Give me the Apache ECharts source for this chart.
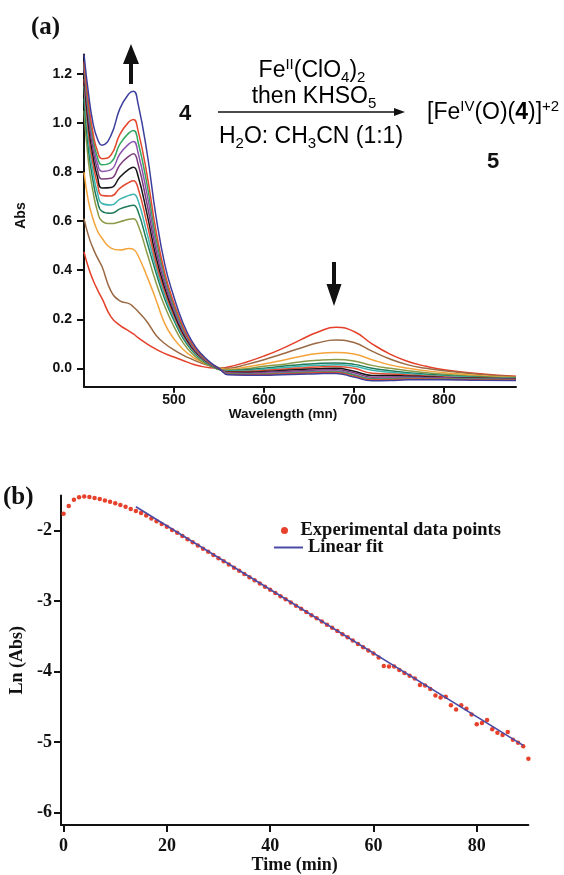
<!DOCTYPE html>
<html><head><meta charset="utf-8">
<script src="https://cdn.jsdelivr.net/npm/echarts@6/dist/echarts.min.js"></script>
<style>html,body{margin:0;padding:0;background:#fff}#c{width:564px;height:875px}</style>
</head><body><div id="c"></div>
<script>
// ---------- Panel (a): UV-vis spectra ----------
const wavelengths = [400,405,410,415,420,430,440,450,455,460,470,480,490,500,510,520,530,540,550,560,580,600,620,640,660,680,700,720,740,760,780,800,840,880];
const specBlue   = [1.28,1.12,1.0,0.935,0.91,0.95,1.06,1.12,1.13, 1.08,0.88,0.62,0.42,0.29,0.185,0.11,0.06,0.025,0.0, -0.026,-0.028,-0.028,-0.026,-0.024,-0.022,-0.021,-0.036,-0.051,-0.05,-0.047,-0.047,-0.047,-0.049,-0.05];
const specRed1   = [1.25,1.08,0.96,0.885,0.855,0.87,0.955,1.005,1.015, 0.97,0.79,0.56,0.385,0.265,0.17,0.1,0.055,0.022,0.0, -0.024,-0.026,-0.025,-0.023,-0.02,-0.018,-0.017,-0.032,-0.047,-0.046,-0.044,-0.044,-0.045,-0.047,-0.048];
const specGreen  = [1.24,1.06,0.94,0.86,0.83,0.84,0.915,0.96,0.97, 0.925,0.75,0.53,0.37,0.255,0.162,0.097,0.053,0.021,0.0, -0.022,-0.024,-0.023,-0.02,-0.017,-0.015,-0.014,-0.028,-0.044,-0.043,-0.041,-0.042,-0.043,-0.045,-0.047];
const specPurple = [1.23,1.04,0.92,0.835,0.803,0.81,0.875,0.915,0.925, 0.88,0.71,0.505,0.355,0.245,0.155,0.093,0.05,0.02,0.0, -0.02,-0.022,-0.02,-0.017,-0.014,-0.012,-0.011,-0.025,-0.041,-0.04,-0.039,-0.04,-0.041,-0.044,-0.046];
const specPlum   = [1.22,1.02,0.895,0.81,0.772,0.775,0.83,0.865,0.875, 0.835,0.67,0.48,0.34,0.235,0.15,0.09,0.048,0.019,0.0, -0.018,-0.019,-0.016,-0.013,-0.01,-0.007,-0.006,-0.018,-0.036,-0.035,-0.035,-0.037,-0.039,-0.043,-0.045];
const specBlack  = [1.2,0.99,0.865,0.78,0.735,0.737,0.78,0.812,0.82, 0.785,0.63,0.455,0.325,0.225,0.143,0.086,0.046,0.018,-0.002, -0.016,-0.016,-0.013,-0.009,-0.005,-0.002,0.0,-0.012,-0.029,-0.029,-0.031,-0.034,-0.037,-0.041,-0.044];
const specRed2   = [1.18,0.96,0.835,0.75,0.705,0.703,0.735,0.758,0.765, 0.735,0.59,0.43,0.31,0.215,0.137,0.082,0.044,0.017,-0.003, -0.014,-0.013,-0.009,-0.004,0.001,0.005,0.007,0.0,-0.02,-0.023,-0.027,-0.031,-0.035,-0.04,-0.043];
const specCyan   = [1.15,0.93,0.8,0.715,0.672,0.666,0.69,0.705,0.71, 0.685,0.55,0.41,0.295,0.205,0.13,0.077,0.041,0.015,-0.004, -0.012,-0.01,-0.004,0.002,0.008,0.012,0.014,0.008,-0.008,-0.016,-0.022,-0.028,-0.032,-0.038,-0.042];
const specTeal   = [1.1,0.89,0.765,0.68,0.64,0.632,0.65,0.662,0.665, 0.64,0.515,0.39,0.28,0.195,0.123,0.072,0.038,0.013,-0.005, -0.01,-0.006,0.0,0.008,0.015,0.02,0.022,0.016,0.0,-0.01,-0.018,-0.024,-0.029,-0.036,-0.041];
const specOlive  = [1.05,0.84,0.72,0.64,0.6,0.59,0.598,0.608,0.61, 0.585,0.47,0.35,0.25,0.17,0.105,0.06,0.03,0.01,-0.005, -0.008,-0.002,0.008,0.016,0.026,0.033,0.036,0.03,0.012,0.0,-0.01,-0.018,-0.024,-0.033,-0.039];
const specOrange = [0.8,0.68,0.61,0.56,0.53,0.49,0.482,0.489,0.485, 0.46,0.375,0.28,0.18,0.12,0.078,0.048,0.027,0.012,0.002, -0.005,0.005,0.018,0.032,0.048,0.06,0.064,0.058,0.035,0.014,0.0,-0.01,-0.018,-0.03,-0.037];
const specBrown  = [0.61,0.54,0.49,0.45,0.415,0.315,0.275,0.264,0.25, 0.232,0.19,0.135,0.1,0.075,0.054,0.037,0.022,0.01,0.001, 0.0,0.015,0.035,0.058,0.082,0.104,0.115,0.105,0.07,0.038,0.014,0.0,-0.01,-0.025,-0.034];
const specRed3   = [0.475,0.41,0.36,0.32,0.285,0.21,0.175,0.152,0.14, 0.125,0.1,0.078,0.06,0.046,0.032,0.018,0.008,0.002,0.0, 0.005,0.025,0.05,0.08,0.115,0.148,0.167,0.15,0.1,0.058,0.028,0.008,-0.006,-0.022,-0.032];
const absTicks = [0,0.2,0.4,0.6,0.8,1.0,1.2];
const wlTicks = [500,600,700,800];

// ---------- Panel (b): kinetics ----------
const timeMin = [0,1,2,3,4,5,6,7,8,9,10,11,12,13,14,15,16,17,18,19,20,21,22,23,24,25,26,27,28,29,30,31,32,33,34,35,36,37,38,39,40,41,42,43,44,45,46,47,48,49,50,51,52,53,54,55,56,57,58,59,60,61,62,63,64,65,66,67,68,69,70,71,72,73,74,75,76,77,78,79,80,81,82,83,84,85,86,87,88,89,90];
const lnAbs = [-1.76,-1.65,-1.56,-1.525,-1.515,-1.52,-1.535,-1.55,-1.57,-1.59,-1.61,-1.635,-1.66,-1.69,-1.72,-1.75,-1.785,-1.825,-1.865,-1.905,-1.945,-1.99,-2.03,-2.075,-2.12,-2.165,-2.21,-2.255,-2.3,-2.345,-2.39,-2.435,-2.48,-2.525,-2.57,-2.615,-2.66,-2.705,-2.75,-2.795,-2.84,-2.885,-2.93,-2.975,-3.02,-3.065,-3.11,-3.155,-3.2,-3.245,-3.29,-3.335,-3.38,-3.425,-3.47,-3.515,-3.56,-3.61,-3.655,-3.70,-3.745,-3.80,-3.92,-3.93,-3.93,-3.98,-4.02,-4.06,-4.10,-4.19,-4.20,-4.25,-4.34,-4.37,-4.36,-4.48,-4.54,-4.48,-4.53,-4.61,-4.75,-4.73,-4.69,-4.82,-4.87,-4.90,-4.86,-4.97,-5.01,-5.06,-5.24];
const fitTime = [14, 89];
const fitLn = [-1.66, -5.05];
const lnTicks = [-6,-5,-4,-3,-2];
const timeTicks = [0,20,40,60,80];

// ---------- styling (kept separate from data) ----------
const spectra = [
  {name:'t1', values:specRed3,  color:'#e4402a'},
  {name:'t2', values:specBrown, color:'#9b6a44'},
  {name:'t3', values:specOrange,color:'#f4a43a'},
  {name:'t4', values:specOlive, color:'#8c9a45'},
  {name:'t5', values:specTeal,  color:'#1f7a58'},
  {name:'t6', values:specCyan,  color:'#3cb4b0'},
  {name:'t7', values:specRed2,  color:'#e24a32'},
  {name:'t8', values:specBlack, color:'#151515'},
  {name:'t9', values:specPlum,  color:'#7b3d7c'},
  {name:'t10',values:specPurple,color:'#8d55ad'},
  {name:'t11',values:specGreen, color:'#33a860'},
  {name:'t12',values:specRed1,  color:'#e5482e'},
  {name:'t13',values:specBlue,  color:'#3c3f9c'}
];

const sansBold = {fontFamily:'Liberation Sans', fontWeight:'bold', color:'#111'};
const serifBold = {fontFamily:'Liberation Serif', fontWeight:'bold', color:'#111'};
const axLine = {onZero:false, lineStyle:{color:'#111', width:2}};

const series = spectra.map(s => ({
  name: s.name, type:'line', xAxisIndex:0, yAxisIndex:0,
  data: wavelengths.map((w,i)=>[w, s.values[i]]),
  showSymbol:false, symbol:'none', smooth:0.5,
  lineStyle:{color:s.color, width:1.5}, itemStyle:{color:s.color}, z:2
}));
series.push({
  name:'Experimental data points', type:'scatter', xAxisIndex:1, yAxisIndex:1,
  data: timeMin.map((t,i)=>[t, lnAbs[i]]), symbolSize:4.5,
  itemStyle:{color:'#e8412b', opacity:1}, z:3
});
series.push({
  name:'Linear fit', type:'line', xAxisIndex:1, yAxisIndex:1,
  data: fitTime.map((t,i)=>[t, fitLn[i]]), symbol:'none', showSymbol:false,
  lineStyle:{color:'#4a4aa6', width:1.6}, itemStyle:{color:'#4a4aa6'}, z:4
});

const rich = {
  n:{fontSize:23, fontFamily:'Liberation Sans', color:'#111', lineHeight:28},
  b:{fontSize:23, fontFamily:'Liberation Sans', fontWeight:'bold', color:'#111', lineHeight:28},
  sub:{fontSize:15, fontFamily:'Liberation Sans', color:'#111', lineHeight:14, verticalAlign:'bottom'},
  sup:{fontSize:15, fontFamily:'Liberation Sans', color:'#111', lineHeight:14, verticalAlign:'top'}
};

const option = {
  animation:false,
  backgroundColor:'#ffffff',
  grid:[
    {left:84, top:54.4, width:432, height:332.3},
    {left:56, top:495.5, width:472.4, height:329.5}
  ],
  xAxis:[
    {type:'value', gridIndex:0, min:400, max:880, axisLine:axLine,
     axisTick:{customValues:wlTicks, length:6, lineStyle:{color:'#111', width:2}},
     axisLabel:{customValues:wlTicks, margin:6, fontSize:14, ...sansBold},
     splitLine:{show:false},
     name:'Wavelength (mn)', nameLocation:'middle', nameGap:14,
     nameTextStyle:{fontSize:13.5, ...sansBold, padding:[0,34,0,0]}},
    {type:'value', gridIndex:1, min:-0.5, max:90, axisLine:axLine,
     axisTick:{customValues:timeTicks, length:7, lineStyle:{color:'#111', width:2}},
     axisLabel:{customValues:timeTicks, margin:12, fontSize:18, ...serifBold},
     splitLine:{show:false},
     name:'Time (min)', nameLocation:'middle', nameGap:31,
     nameTextStyle:{fontSize:18, ...serifBold}}
  ],
  yAxis:[
    {type:'value', gridIndex:0, min:-0.075, max:1.28, axisLine:axLine,
     axisTick:{customValues:absTicks, length:7, lineStyle:{color:'#111', width:2}},
     axisLabel:{customValues:absTicks, margin:12, fontSize:14, ...sansBold,
       formatter:v=>v.toFixed(1)},
     splitLine:{show:false},
     name:'Abs', nameLocation:'middle', nameGap:56,
     nameTextStyle:{fontSize:14, ...sansBold, padding:[0,0,0,10]}},
    {type:'value', gridIndex:1, min:-6.18, max:-1.5, axisLine:axLine,
     axisTick:{customValues:lnTicks, length:7, lineStyle:{color:'#111', width:2}},
     axisLabel:{customValues:lnTicks, margin:9, fontSize:18, ...serifBold},
     splitLine:{show:false},
     name:'Ln (Abs)', nameLocation:'middle', nameGap:35,
     nameTextStyle:{fontSize:18, ...serifBold}}
  ],
  legend:[
    {data:[{name:'Experimental data points', icon:'circle', itemStyle:{color:'#e8412b', opacity:1}}],
     left:281, top:521, padding:0,
     itemWidth:22, itemHeight:7, textStyle:{fontSize:18.5, ...serifBold}},
    {data:[{name:'Linear fit', icon:'rect'}], left:274, top:538, padding:0,
     itemWidth:29, itemHeight:2, textStyle:{fontSize:18.5, ...serifBold}}
  ],
  graphic:[
    {type:'text', left:31, top:15, style:{text:'(a)', font:'bold 25px "Liberation Serif"', fill:'#111'}},
    {type:'text', left:3, top:485, style:{text:'(b)', font:'bold 25px "Liberation Serif"', fill:'#111'}},
    {type:'polygon', shape:{points:[[129,84],[129,64],[123,64],[131,44],[139,64],[133,64],[133,84]]}, style:{fill:'#111'}},
    {type:'polygon', shape:{points:[[332,262],[332,284],[326.5,284],[334,306],[341.5,284],[336,284],[336,262]]}, style:{fill:'#111'}},
    {type:'text', x:185, y:114, style:{text:'4', font:'bold 22px "Liberation Sans"', fill:'#111', align:'center', verticalAlign:'middle'}},
    {type:'text', x:493, y:162, style:{text:'5', font:'bold 22px "Liberation Sans"', fill:'#111', align:'center', verticalAlign:'middle'}},
    {type:'text', x:312, y:71, style:{text:'{n|Fe}{sup|II}{n|(ClO}{sub|4}{n|)}{sub|2}', rich:rich, align:'center', verticalAlign:'middle'}},
    {type:'text', x:314, y:97, style:{text:'{n|then KHSO}{sub|5}', rich:rich, align:'center', verticalAlign:'middle'}},
    {type:'text', x:311, y:137, style:{text:'{n|H}{sub|2}{n|O: CH}{sub|3}{n|CN (1:1)}', rich:rich, align:'center', verticalAlign:'middle'}},
    {type:'text', x:427, y:113, style:{text:'{n|[Fe}{sup|IV}{n|(O)(}{b|4}{n|)]}{sup|+2}', rich:rich, align:'left', verticalAlign:'middle'}},
    {type:'line', shape:{x1:218, y1:112, x2:398, y2:112}, style:{stroke:'#111', lineWidth:1.5}},
    {type:'polygon', shape:{points:[[394,108],[405,112],[394,116]]}, style:{fill:'#111'}}
  ],
  series: series
};
const chart = echarts.init(document.getElementById('c'));
chart.setOption(option);
</script>
</body></html>
